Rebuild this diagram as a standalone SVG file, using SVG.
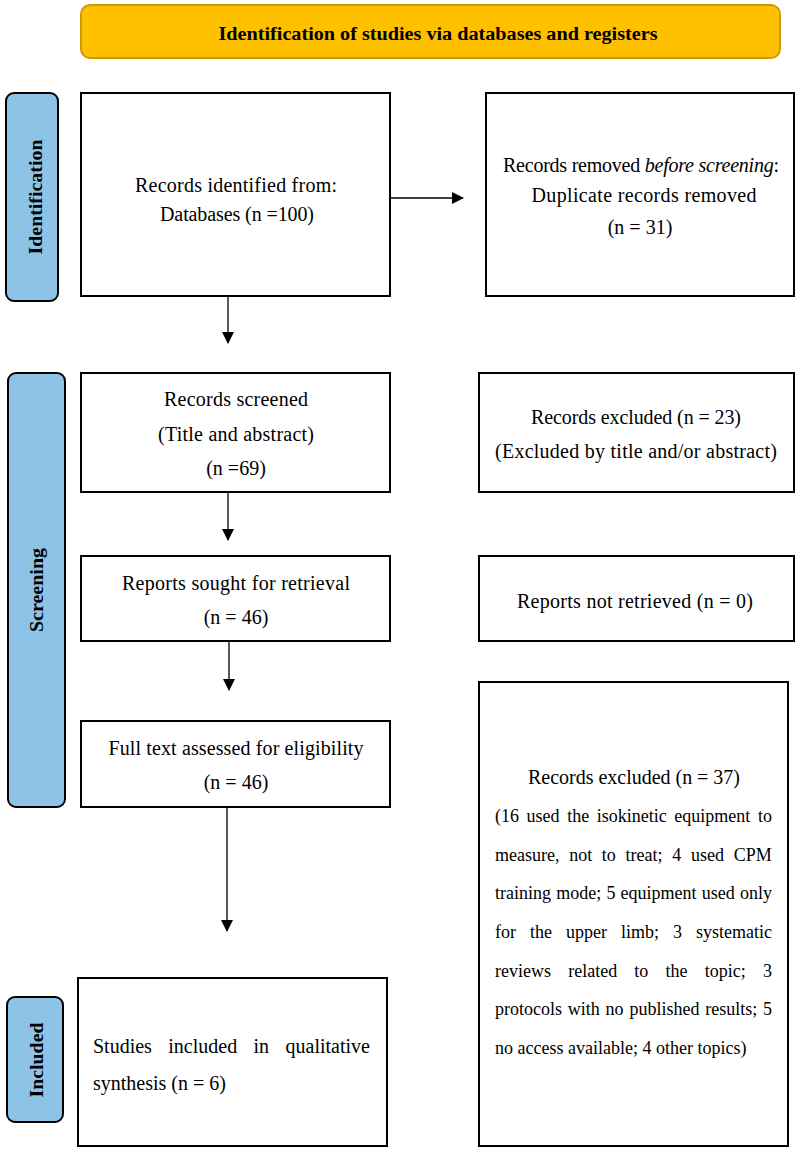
<svg xmlns="http://www.w3.org/2000/svg" width="795" height="1155" viewBox="0 0 795 1155">
<defs>
<style>
.box{fill:#fff;stroke:#000;stroke-width:2}
.tab{fill:#8EC3E8;stroke:#000;stroke-width:2}
.t{font-family:"Liberation Serif","Times New Roman",serif;font-size:20px;fill:#000;text-anchor:middle}
.j{font-family:"Liberation Serif","Times New Roman",serif;font-size:18px;fill:#000}
.j20{font-family:"Liberation Serif","Times New Roman",serif;font-size:20px;fill:#000}
.b{font-family:"Liberation Serif","Times New Roman",serif;font-size:18px;font-weight:bold;fill:#000;text-anchor:middle}
.c{stroke:#000;stroke-width:1.3;fill:none;marker-end:url(#ah)}
</style>
<marker id="ah" markerWidth="12" markerHeight="12" refX="11" refY="6" orient="auto" markerUnits="userSpaceOnUse">
<path d="M0,0 L12,6 L0,12 Z" fill="#000"/>
</marker>
</defs>
<rect width="795" height="1155" fill="#fff"/>

<g id="banner">
<rect x="81" y="5" width="699" height="53" rx="9" fill="#FFC000" stroke="#CC9A06" stroke-width="2"/>
<text class="b" x="438" y="40" textLength="439" lengthAdjust="spacingAndGlyphs">Identification of studies via databases and registers</text>
</g>

<g id="tab-identification">
<rect class="tab" x="6" y="93" width="52" height="208" rx="8"/>
<text class="b" x="42" y="197" transform="rotate(-90 42 197)" textLength="115" lengthAdjust="spacingAndGlyphs">Identification</text>
</g>
<g id="tab-screening">
<rect class="tab" x="8" y="373" width="57" height="434" rx="8"/>
<text class="b" x="43" y="590" transform="rotate(-90 43 590)" textLength="84" lengthAdjust="spacingAndGlyphs">Screening</text>
</g>
<g id="tab-included">
<rect class="tab" x="7" y="997" width="56" height="125" rx="8"/>
<text class="b" x="43" y="1060" transform="rotate(-90 43 1060)" textLength="75" lengthAdjust="spacingAndGlyphs">Included</text>
</g>

<g id="n-identified">
<rect class="box" x="81" y="93" width="309" height="203"/>
<text class="t" x="236" y="192" textLength="202">Records identified from:</text>
<text class="t" x="237" y="221" textLength="154">Databases (n =100)</text>
</g>
<g id="n-removed">
<rect class="box" x="486" y="93" width="308" height="203"/>
<text class="t" x="641" y="172" textLength="276">Records removed <tspan font-style="italic">before screening</tspan>:</text>
<text class="t" x="644" y="202" textLength="225">Duplicate records removed</text>
<text class="t" x="640" y="234">(n = 31)</text>
</g>
<g id="n-screened">
<rect class="box" x="81" y="373" width="309" height="119"/>
<text class="t" x="236" y="406" textLength="144">Records screened</text>
<text class="t" x="236" y="441" textLength="156">(Title and abstract)</text>
<text class="t" x="236" y="475">(n =69)</text>
</g>
<g id="n-excluded1">
<rect class="box" x="479" y="373" width="315" height="119"/>
<text class="t" x="636" y="424" textLength="210">Records excluded (n = 23)</text>
<text class="t" x="636" y="458" textLength="282">(Excluded by title and/or abstract)</text>
</g>
<g id="n-sought">
<rect class="box" x="81" y="556" width="309" height="85"/>
<text class="t" x="236" y="590" textLength="228">Reports sought for retrieval</text>
<text class="t" x="236" y="624">(n = 46)</text>
</g>
<g id="n-notretrieved">
<rect class="box" x="479" y="556" width="315" height="85"/>
<text class="t" x="635" y="608" textLength="236">Reports not retrieved (n = 0)</text>
</g>
<g id="n-fulltext">
<rect class="box" x="81" y="721" width="309" height="86"/>
<text class="t" x="236" y="755" textLength="255">Full text assessed for eligibility</text>
<text class="t" x="236" y="789">(n = 46)</text>
</g>
<g id="n-excluded2">
<rect class="box" x="479" y="682" width="309" height="464"/>
<text class="t" x="634" y="784" textLength="212">Records excluded (n = 37)</text>
<text class="j" x="495" y="822" word-spacing="3.1">(16 used the isokinetic equipment to</text>
<text class="j" x="495" y="861" word-spacing="5.2">measure, not to treat; 4 used CPM</text>
<text class="j" x="495" y="899" word-spacing="0.7">training mode; 5 equipment used only</text>
<text class="j" x="495" y="938" word-spacing="9.5">for the upper limb; 3 systematic</text>
<text class="j" x="495" y="977" word-spacing="12.7">reviews related to the topic; 3</text>
<text class="j" x="495" y="1015" word-spacing="1.3">protocols with no published results; 5</text>
<text class="j" x="495" y="1054">no access available; 4 other topics)</text>
</g>
<g id="n-included">
<rect class="box" x="78" y="978" width="309" height="168"/>
<text class="j20" x="93" y="1053" word-spacing="11.4">Studies included in qualitative</text>
<text class="j20" x="93" y="1090">synthesis (n = 6)</text>
</g>

<g id="connectors">
<line class="c" x1="390" y1="198" x2="463" y2="198"/>
<line class="c" x1="228" y1="296" x2="228" y2="343"/>
<line class="c" x1="228" y1="492" x2="228" y2="540"/>
<line class="c" x1="229" y1="641" x2="229" y2="690"/>
<line class="c" x1="227" y1="807" x2="227" y2="931"/>
</g>
</svg>
